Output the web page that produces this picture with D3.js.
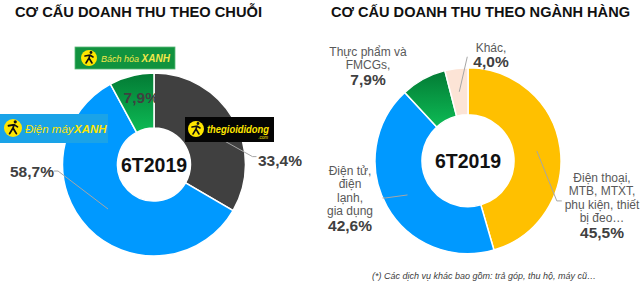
<!DOCTYPE html>
<html>
<head>
<meta charset="utf-8">
<script src="https://cdn.jsdelivr.net/npm/d3@7"></script>
<style>
  body { margin: 0; background: #fff; }
  text { font-family: "Liberation Sans", Arial, sans-serif; }
</style>
</head>
<body>
<div id="chart"></div>
<script>
// data
const chainNames = ["thegioididong", "Điện máy XANH", "Bách hóa XANH"];
const chainValues = [33.4, 58.7, 7.9];
const chainLabels = ["33,4%", "58,7%", "7,9%"];

const catNames = [
    ["Điện thoại,", "MTB, MTXT,", "phụ kiện, thiết", "bị đeo…"],
    ["Điện tử,", "điện", "lạnh,", "gia dụng"],
    ["Thực phẩm và", "FMCGs,"],
    ["Khác,"]
];
const catValues = [45.5, 42.6, 7.9, 4.0];
const catLabels = ["45,5%", "42,6%", "7,9%", "4,0%"];

const titles = ["CƠ CẤU DOANH THU THEO CHUỖI", "CƠ CẤU DOANH THU THEO NGÀNH HÀNG"];
const centerText = "6T2019";
const footnote = "(*) Các dịch vụ khác bao gồm: trả góp, thu hộ, máy cũ…";

const width = 640, height = 286;

const svg = d3.select("#chart").append("svg")
    .attr("width", width)
    .attr("height", height);

// green gradient
const defs = svg.append("defs");
const grad = defs.append("linearGradient")
    .attr("id", "greenGrad")
    .attr("x1", 0).attr("y1", 0).attr("x2", 0).attr("y2", 1);
grad.append("stop").attr("offset", "0%").attr("stop-color", "#037A34");
grad.append("stop").attr("offset", "100%").attr("stop-color", "#0DBB55");

// titles
svg.append("text").attr("x", 15).attr("y", 17)
    .attr("font-size", 15).attr("font-weight", "bold").attr("fill", "#111")
    .attr("textLength", 247).attr("lengthAdjust", "spacingAndGlyphs")
    .text(titles[0]);
svg.append("text").attr("x", 331).attr("y", 17)
    .attr("font-size", 15).attr("font-weight", "bold").attr("fill", "#111")
    .attr("textLength", 299).attr("lengthAdjust", "spacingAndGlyphs")
    .text(titles[1]);

const pie = d3.pie().sort(null).value(d => d);

// ---------- left donut ----------
const L = {cx: 154, cy: 164.5, r: 91.5, ri: 36.5};
const chainColors = ["#404040", "#0099FF", "url(#greenGrad)"];
const gL = svg.append("g").attr("transform", `translate(${L.cx},${L.cy})`);
const arcL = d3.arc().innerRadius(L.ri).outerRadius(L.r);
const midL = d3.arc().innerRadius((L.r + L.ri) / 2).outerRadius((L.r + L.ri) / 2);
const arcsL = pie(chainValues);

gL.selectAll(".slice")
    .data(arcsL)
    .join("path")
    .attr("class", "slice")
    .attr("d", arcL)
    .attr("fill", (d, i) => chainColors[i])
    .attr("stroke", "#fff")
    .attr("stroke-width", 1.5);

// leader lines (relative to centroid)
const leadL = [
    {dx: 43, dy: 24},
    {dx: -50, dy: -38},
    null
];
arcsL.forEach((d, i) => {
    const c = midL.centroid(d);
    const o = leadL[i];
    if (o) {
        gL.append("polyline")
            .attr("points", [[c[0], c[1]], [c[0] + o.dx, c[1] + o.dy], [c[0] + o.dx + (o.dx > 0 ? 4 : -4), c[1] + o.dy]].join(" "))
            .attr("fill", "none").attr("stroke", "#A6A6A6").attr("stroke-width", 1);
    }
});
// percent labels
gL.append("text").attr("x", 104).attr("y", 1)
    .attr("font-size", 15.5).attr("font-weight", "bold").attr("fill", "#404040")
    .text(chainLabels[0]);
gL.append("text").attr("x", -144).attr("y", 12)
    .attr("font-size", 15.5).attr("font-weight", "bold").attr("fill", "#404040")
    .text(chainLabels[1]);
{
    const c = midL.centroid(arcsL[2]);
    gL.append("text").attr("x", c[0] + 3).attr("y", c[1] + 1)
        .attr("text-anchor", "middle")
        .attr("font-size", 15.5).attr("font-weight", "bold").attr("fill", "#404040")
        .text(chainLabels[2]);
}
gL.append("text").attr("y", 7).attr("text-anchor", "middle")
    .attr("font-size", 19.5).attr("font-weight", "bold").attr("fill", "#111")
    .text(centerText);

// ---------- logos ----------
function icon(g, x, y, r) {
    g.append("circle").attr("cx", x).attr("cy", y).attr("r", r).attr("fill", "#FFE600");
    const s = r / 8;
    g.append("path")
        .attr("d", `M${x - 3 * s},${y + 5 * s} L${x},${y} L${x + 3 * s},${y + 5 * s} M${x},${y} L${x + 1 * s},${y - 3 * s} M${x - 4 * s},${y - 2 * s} L${x + 1 * s},${y - 3 * s} L${x + 4 * s},${y - 1 * s}`)
        .attr("stroke", "#111").attr("stroke-width", 1.6 * s).attr("fill", "none")
        .attr("stroke-linecap", "round");
    g.append("circle").attr("cx", x + 2 * s).attr("cy", y - 5.5 * s).attr("r", 1.4 * s).attr("fill", "#111");
}

// Bách hóa XANH
const lg1 = svg.append("g");
lg1.append("rect").attr("x", 75).attr("y", 47).attr("width", 100).attr("height", 22)
    .attr("fill", "#11933F").attr("stroke", "#5CB87A").attr("stroke-width", 0.8);
icon(lg1, 89, 58, 8);
lg1.append("text").attr("x", 101).attr("y", 62).attr("font-size", 9).attr("font-style", "italic")
    .attr("fill", "#F2E84A")
    .html('Bách hóa <tspan font-weight="bold" font-size="10">XANH</tspan>');

// Điện máy XANH
const lg2 = svg.append("g");
lg2.append("rect").attr("x", 0).attr("y", 114).attr("width", 108).attr("height", 29)
    .attr("fill", "#1AA3E8");
icon(lg2, 13, 128, 9);
const dm1 = lg2.append("text").attr("x", 25).attr("y", 133).attr("font-size", 11.5)
    .attr("font-style", "italic").attr("fill", "#FFE600")
    .text("Điện máy");
const dmW = dm1.node().getComputedTextLength();
lg2.append("text").attr("x", 25 + dmW + 0.5).attr("y", 133).attr("font-size", 11.5)
    .attr("font-style", "italic").attr("font-weight", "bold").attr("fill", "#FFE600")
    .text("XANH");

// thegioididong
const lg3 = svg.append("g");
lg3.append("rect").attr("x", 185).attr("y", 117).attr("width", 89).attr("height", 25)
    .attr("fill", "#050505");
icon(lg3, 196, 129, 8);
lg3.append("text").attr("x", 207).attr("y", 133).attr("font-size", 10.5).attr("font-style", "italic")
    .attr("font-weight", "bold").attr("fill", "#FFE600")
    .attr("textLength", 62).attr("lengthAdjust", "spacingAndGlyphs")
    .text("thegioididong");
lg3.append("text").attr("x", 268).attr("y", 139).attr("text-anchor", "end").attr("font-size", 4.5)
    .attr("font-style", "italic").attr("fill", "#FFE600").text(".com");

// ---------- right donut ----------
const R = {cx: 468, cy: 160.7, r: 93, ri: 46};
const catColors = ["#FFC000", "#0099FF", "url(#greenGrad)", "#FCE4D6"];
const gR = svg.append("g").attr("transform", `translate(${R.cx},${R.cy})`);
const arcR = d3.arc().innerRadius(R.ri).outerRadius(R.r);
const midR = d3.arc().innerRadius((R.r + R.ri) / 2).outerRadius((R.r + R.ri) / 2);
const arcsR = pie(catValues);

gR.selectAll(".slice")
    .data(arcsR)
    .join("path")
    .attr("class", "slice")
    .attr("d", arcR)
    .attr("fill", (d, i) => catColors[i])
    .attr("stroke", "#fff")
    .attr("stroke-width", 1.5);

gR.append("text").attr("y", 7).attr("text-anchor", "middle")
    .attr("font-size", 19.5).attr("font-weight", "bold").attr("fill", "#111")
    .text(centerText);

// label blocks: centre x,y of first line relative to donut centre
const catLab = [
    {x: 134, y: 21, lead: [[20, 50], [25, 50]]},
    {x: -118, y: 14, lead: [[-22, 3], [-25, 3]]},
    {x: -100, y: -105, lead: null},
    {x: 23, y: -109, lead: [[8, -35]]}
];
arcsR.forEach((d, i) => {
    const c = midR.centroid(d);
    const o = catLab[i];
    if (o.lead) {
        const pts = [c].concat(o.lead.map(p => [c[0] + p[0], c[1] + p[1]]));
        gR.append("polyline").attr("points", pts.join(" "))
            .attr("fill", "none").attr("stroke", "#A6A6A6").attr("stroke-width", 1);
    }
    const t = gR.append("text").attr("text-anchor", "middle");
    catNames[i].forEach((line, j) => {
        t.append("tspan").attr("x", o.x).attr("y", o.y + j * 13.5)
            .attr("font-size", 12).attr("fill", "#595959").text(line);
    });
    t.append("tspan").attr("x", o.x).attr("y", o.y + catNames[i].length * 13.5 + 2)
        .attr("font-size", 15.5).attr("font-weight", "bold").attr("fill", "#404040")
        .text(catLabels[i]);
});

// footnote
svg.append("text").attr("x", 372).attr("y", 279)
    .attr("font-size", 9).attr("font-style", "italic").attr("fill", "#404040")
    .text(footnote);
</script>
</body>
</html>
